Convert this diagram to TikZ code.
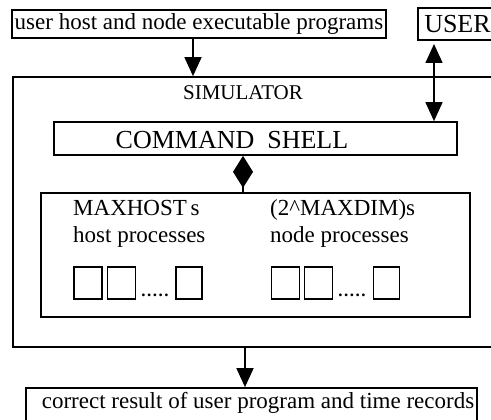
\documentclass[tikz,border=0pt]{standalone}
\usepackage{fontspec}
\setmainfont{Liberation Serif}
\usetikzlibrary{arrows.meta,calc}
\begin{document}
\begin{tikzpicture}[x=1pt,y=-1pt,
  box/.style={draw,line width=1.7pt,inner sep=0pt,rectangle},
  small/.style={draw,line width=1.5pt,inner sep=0pt,rectangle,minimum height=32pt},
  conn/.style={line width=1.5pt},
  tip/.style={-{Triangle[width=17pt,length=19pt]}},
  bigtxt/.style={font=\fontsize{26}{30}\selectfont,inner sep=0pt},
  midtxt/.style={font=\fontsize{23}{27}\selectfont,inner sep=0pt},
  simtxt/.style={font=\fontsize{21}{25}\selectfont,inner sep=0pt},
  dots/.style={font=\fontsize{17}{20}\selectfont\bfseries,inner sep=0pt}]
\useasboundingbox (0,0) rectangle (491,420);
\clip (0,0) rectangle (491,420);
% top boxes
\node[box,minimum width=374pt,minimum height=28pt,midtxt] (prog) at (199,24) {user host and node executable programs};
\node[box,minimum width=79pt,minimum height=32pt,bigtxt] (user) at (457.5,24) {USER};
% simulator
\node[box,minimum width=487pt,minimum height=270pt] (sim) at (256.5,212) {};
\node[simtxt] (simlabel) at (243,93) {SIMULATOR};
% command shell
\node[box,minimum width=403pt,minimum height=33pt] (shell) at (255.5,138.5) {};
\node[bigtxt] (shelltext) at (232,140) {COMMAND\ \ SHELL};
% inner processes box
\node[box,minimum width=429pt,minimum height=124pt] (inner) at (255.5,255) {};
\node[midtxt,anchor=base west] (maxhost) at (73,215) {MAXHOST\,s};
\node[midtxt,anchor=base west] (hostp) at (73,243) {host processes};
\node[midtxt,anchor=base west] (maxdim) at (270,215) {(2\^{}MAXDIM)s};
\node[midtxt,anchor=base west] (nodep) at (270,243) {node processes};
% small process boxes
\node[small,minimum width=28pt] (h1) at (88,283) {};
\node[small,minimum width=28pt] (h2) at (121.5,283) {};
\node[dots,anchor=base] (hd) at (155,297) {.\kern1.5pt.\kern1.5pt.\kern1.5pt.\kern1.5pt.};
\node[small,minimum width=26pt] (h3) at (189,283) {};
\node[small,minimum width=28pt] (n1) at (285.5,283) {};
\node[small,minimum width=28pt] (n2) at (318.5,283) {};
\node[dots,anchor=base] (nd) at (352,297) {.\kern1.5pt.\kern1.5pt.\kern1.5pt.\kern1.5pt.};
\node[small,minimum width=26pt] (n3) at (386.5,283) {};
% result box
\node[box,minimum width=451pt,minimum height=42pt] (res) at (251.5,409) {};
\node[midtxt] (restext) at (258,403) {correct result of user program and time records};
% connectors
\coordinate (ax) at (193,0);
\coordinate (ux) at (434,0);
\coordinate (dx) at (243,0);
\coordinate (rx) at (245,0);
\coordinate (uend) at (434,44);
\draw[conn,tip] (prog.south -| ax) -- (sim.north -| ax);
\draw[conn,{Triangle[width=17pt,length=19pt]}-{Triangle[width=17pt,length=19pt]}] (uend) -- (shell.north -| ux);
\draw[conn,{Diamond[width=20pt,length=32pt]}-] (shell.south -| dx) -- (inner.north -| dx);
\draw[conn,tip] (sim.south -| rx) -- (res.north -| rx);
\end{tikzpicture}
\end{document}
